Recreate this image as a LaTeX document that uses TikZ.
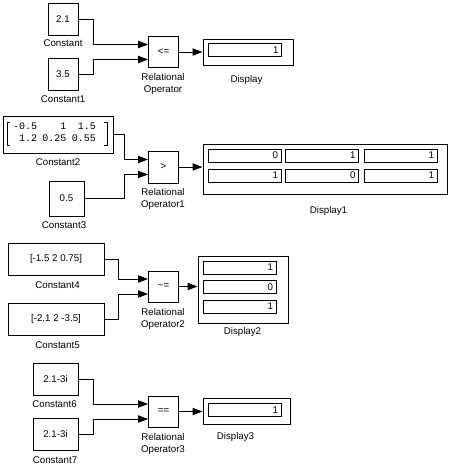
\documentclass[tikz,border=0pt]{standalone}
\usepackage{fontspec}
\setmainfont{Liberation Sans}
\newfontfamily\matfont{Liberation Mono}
\usetikzlibrary{positioning,calc,arrows.meta}
\newcommand{\pxu}{0.75pt}
\newcommand{\blkfont}{\fontsize{7.3}{9}\selectfont}

\tikzset{every picture/.style={line width=0.75pt}}
\tikzset{
  blk/.style={draw, inner sep=0pt, font=\blkfont},
  cell/.style={draw, inner sep=0pt, inner xsep=3*\pxu, text width=67*\pxu, minimum height=13*\pxu, align=right, font=\blkfont},
  lbl/.style={anchor=north, inner sep=0pt, align=center, font=\blkfont},
  sig/.style={-{Triangle[length=7.5pt,width=5.5pt]}}
}

\begin{document}
\begin{tikzpicture}[x=0.75pt,y=0.75pt,yscale=-1,xscale=1]
\path[use as bounding box] (0,0) rectangle (458,465);

%Shape: Constant blocks
\node[blk, minimum width=30*\pxu, minimum height=32*\pxu] (c0) at (63,19) {2.1};
\node[blk, minimum width=30*\pxu, minimum height=32*\pxu] (c1) at (63,74) {3.5};
\node[blk, minimum width=110*\pxu, minimum height=37*\pxu] (c2) at (58,134.5) {};
\node[blk, minimum width=35*\pxu, minimum height=35*\pxu] (c3) at (66.5,198.5) {0.5};
\node[blk, minimum width=96*\pxu, minimum height=32*\pxu] (c4) at (56,259) {[-1.5 2 0.75]};
\node[blk, minimum width=96*\pxu, minimum height=32*\pxu] (c5) at (56,319) {[-2.1 2 -3.5]};
\node[blk, minimum width=45*\pxu, minimum height=32*\pxu] (c6) at (55.5,379) {2.1-3i};
\node[blk, minimum width=45*\pxu, minimum height=32*\pxu] (c7) at (55.5,434) {2.1-3i};

% Matrix value of Constant2
\node[inner sep=0pt, font=\matfont\fontsize{7.5}{9}\selectfont] (c2v) at (54.5,133)
  {\begin{tabular}{@{}r@{\hspace{4pt}}r@{\hspace{4pt}}r@{}}-0.5 & 1 & 1.5\\ 1.2 & 0.25 & 0.55\end{tabular}};
\draw (10,122) -- (7,122) -- (7,145) -- (10,145);
\draw (104,122) -- (107,122) -- (107,145) -- (104,145);

%Shape: Relational Operator blocks
\node[blk, minimum width=30*\pxu, minimum height=31*\pxu] (r0) at (163.5,52) {<=};
\node[blk, minimum width=30*\pxu, minimum height=32*\pxu] (r1) at (163.5,167) {>};
\node[blk, minimum width=30*\pxu, minimum height=31*\pxu] (r2) at (163.5,286.5) {\textasciitilde=};
\node[blk, minimum width=30*\pxu, minimum height=31*\pxu] (r3) at (163.5,411.5) {==};

%Shape: Display blocks
\node[blk, minimum width=90*\pxu, minimum height=26*\pxu] (d0) at (248,52) {};
\node[cell] (d0c) at (245,50) {1};
\node[blk, minimum width=244*\pxu, minimum height=50*\pxu] (d1) at (325,169) {};
\foreach \v/\cx/\cy [count=\i] in {0/244.5/155.5, 1/322/155.5, 1/400.5/155.5, 1/244.5/175.5, 0/322/175.5, 1/400.5/175.5}
  \node[cell] (d1c\i) at (\cx,\cy) {\v};
\node[blk, minimum width=90*\pxu, minimum height=67*\pxu] (d2) at (243,289.5) {};
\foreach \v/\cy [count=\i] in {1/267.5, 0/287, 1/306.5}
  \node[cell] (d2c\i) at (239.5,\cy) {\v};
\node[blk, minimum width=87*\pxu, minimum height=26*\pxu] (d3) at (246.5,411) {};
\node[cell] (d3c) at (244.5,410) {1};

% Text Node
\node[lbl] (c0l) at (63,39.5) {Constant};
\node[lbl] (c1l) at (63,95.5) {Constant1};
\node[lbl] (c2l) at (58,158.5) {Constant2};
\node[lbl] (c3l) at (64,221.5) {Constant3};
\node[lbl] (c4l) at (57.5,281.5) {Constant4};
\node[lbl] (c5l) at (57.5,341.5) {Constant5};
\node[lbl] (c6l) at (54.5,400) {Constant6};
\node[lbl] (c7l) at (55,456) {Constant7};
\node[lbl] (r0l) at (163,72.5) {Relational\\Operator};
\node[lbl] (r1l) at (163,187.5) {Relational\\Operator1};
\node[lbl] (r2l) at (163,307.5) {Relational\\Operator2};
\node[lbl] (r3l) at (163,432.5) {Relational\\Operator3};
\node[lbl] (d0l) at (246.5,75) {Display};
\node[lbl] (d1l) at (328.5,206) {Display1};
\node[lbl] (d2l) at (242.5,327) {Display2};
\node[lbl] (d3l) at (235.5,431.5) {Display3};

% Connection
\coordinate (j0) at (93,0);
\coordinate (j1) at (124,0);
\coordinate (j2) at (118,0);
\coordinate (j3) at (93,0);
\draw[sig] (c0.east) -- (c0.east -| j0) |- ($(r0.west)+(0,-7.5)$);
\draw[sig] (c1.east) -- (c1.east -| j0) |- ($(r0.west)+(0,7.5)$);
\draw[sig] (c2.east) -- (c2.east -| j1) |- ($(r1.west)+(0,-7.5)$);
\draw[sig] (c3.east) -- (c3.east -| j1) |- ($(r1.west)+(0,7.5)$);
\draw[sig] (c4.east) -- (c4.east -| j2) |- ($(r2.west)+(0,-7.5)$);
\draw[sig] (c5.east) -- (c5.east -| j2) |- ($(r2.west)+(0,7.5)$);
\draw[sig] (c6.east) -- (c6.east -| j3) |- ($(r3.west)+(0,-7.5)$);
\draw[sig] (c7.east) -- (c7.east -| j3) |- ($(r3.west)+(0,7.5)$);
\draw[sig] (r0.east) -- (r0.east -| d0.west);
\draw[sig] (r1.east) -- (r1.east -| d1.west);
\draw[sig] (r2.east) -- (r2.east -| d2.west);
\draw[sig] (r3.east) -- (r3.east -| d3.west);

\end{tikzpicture}
\end{document}
